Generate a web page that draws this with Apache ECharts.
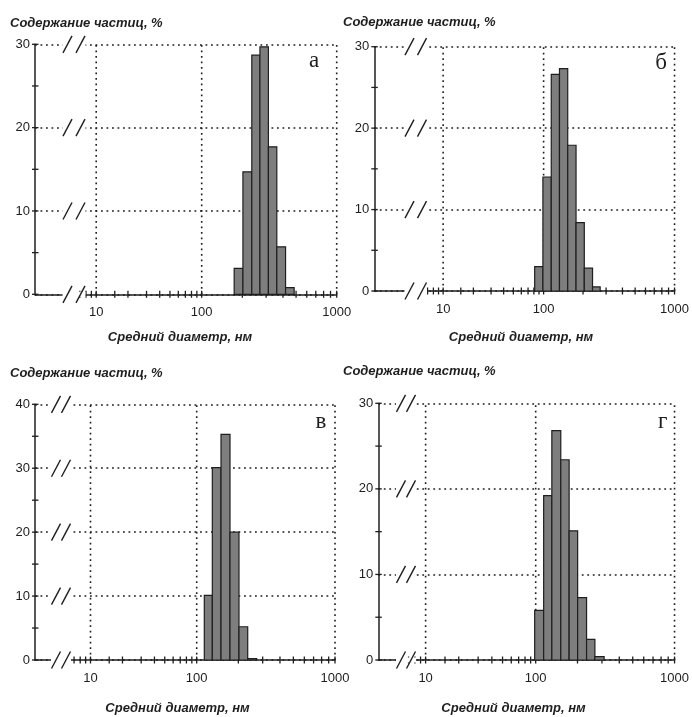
<!DOCTYPE html>
<html><head><meta charset="utf-8">
<script src="https://cdn.jsdelivr.net/npm/echarts@6/dist/echarts.min.js"></script>
<style>html,body{margin:0;padding:0;background:#fff}#c{width:692px;height:717px}</style>
</head><body><div id="c"></div>
<script>
// ---------------- data ----------------
// bin edges, nm (mean diameter) and particle content, %
const edgesA  = [174, 202, 235, 270, 312, 360, 418, 484];
const valuesA = [3.1, 14.7, 28.7, 29.7, 17.7, 5.7, 0.8];
const edgesB  = [81.5, 98.4, 114.4, 132.2, 152.8, 176.9, 204.5, 236.4, 270.3];
const valuesB = [3.0, 14.0, 26.6, 27.3, 17.9, 8.4, 2.8, 0.5];
const edgesV  = [113.5, 129.7, 149.9, 174.1, 202.2, 233.8, 271.6];
const valuesV = [10.1, 30.1, 35.3, 20.0, 5.2, 0.2];
const edgesG  = [97.9, 114.1, 130.7, 151.6, 174.1, 200.5, 232.5, 266.9, 311.0];
const valuesG = [5.8, 19.2, 26.8, 23.4, 15.1, 7.3, 2.4, 0.4];
const yMaxes  = [30, 30, 40, 30];
const panelLetters = ['а', 'б', 'в', 'г'];
const xTickLabels = [10, 100, 1000];
const xTickMarks = [7, 8, 9, 10, 15, 20, 30, 40, 50, 60, 70, 80, 90, 100,
                    200, 300, 400, 500, 600, 700, 800, 900, 1000];
const yTitle = 'Содержание частиц, %';
const xTitle = 'Средний диаметр, нм';

// ---------------- layout (pixels) ----------------
const layout = [
  {axisX:35,    x10:96.2,  x100:201.7, x1000:336.7, yTop:44.3,  y0:294.3, brk:[67.5,80.5], yT:[10,23.3],  xT:[180,337],   letter:[314,60.5]},
  {axisX:374.3, x10:443.7, x100:545,   x1000:677,   yTop:46.7,  y0:291,   brk:[409.5,422], yT:[343,22.7], xT:[521,337],   letter:[661,63]},
  {axisX:35,    x10:90.5,  x100:196.7, x1000:335,   yTop:404.3, y0:660,   brk:[56,66],     yT:[10,373.3], xT:[177.5,708], letter:[321,422]},
  {axisX:378.3, x10:426,   x100:537,   x1000:677,   yTop:403.3, y0:660,   brk:[401,411],   yT:[343,371.7],xT:[513.5,708], letter:[662.7,422]}
];
const panels = [
  {edges: edgesA, values: valuesA},
  {edges: edgesB, values: valuesB},
  {edges: edgesV, values: valuesV},
  {edges: edgesG, values: valuesG}
];

const INK = '#1f1f1f';
const DOT = [1.8, 3.7];
const txtFont = 'Liberation Sans, Arial, sans-serif';

function makeU(L) {
  const dHigh = L.x1000 - L.x100;
  const r = (L.x100 - L.x10) / dHigh;
  return d => { const l = Math.log10(d); return l >= 2 ? l : 2 - r * (2 - l); };
}

const grids = [], xAxes = [], yAxes = [], series = [], graphics = [];

layout.forEach((L, i) => {
  const u = makeU(L);
  const dHigh = L.x1000 - L.x100;
  const xMin = 2 - (L.x100 - L.axisX) / dHigh;
  const yMax = yMaxes[i];
  const P = panels[i];

  grids.push({left: L.axisX, top: L.yTop, width: L.x1000 - L.axisX, height: L.y0 - L.yTop, containLabel: false});

  const labelU = xTickLabels.map(u);
  xAxes.push({
    type: 'value', gridIndex: i, min: xMin, max: 3,
    axisLine: {show: true, onZero: false, lineStyle: {color: INK, width: 1.5}},
    axisTick: {show: false},
    splitLine: {show: false},
    axisLabel: {
      customValues: labelU, margin: 12, fontSize: 13, color: '#1e1e1e', fontFamily: txtFont,
      formatter: v => { let best = 0; labelU.forEach((w, k) => { if (Math.abs(w - v) < Math.abs(labelU[best] - v)) best = k; }); return String(xTickLabels[best]); }
    }
  });
  yAxes.push({
    type: 'value', gridIndex: i, min: 0, max: yMax, interval: 10,
    axisLine: {show: true, lineStyle: {color: INK, width: 1.5}},
    axisTick: {show: false},
    axisLabel: {margin: 5, fontSize: 13, color: '#1e1e1e', fontFamily: txtFont},
    splitLine: {show: true, lineStyle: {color: INK, width: 1.6, type: DOT}}
  });

  // vertical dotted grid lines at labelled diameters
  series.push({
    type: 'custom', xAxisIndex: i, yAxisIndex: i, z: 1, silent: true,
    data: xTickLabels.map(v => [u(v), 0]), encode: {x: 0, y: 1},
    renderItem: (params, api) => {
      const a = api.coord([api.value(0), 0]), b = api.coord([api.value(0), yMax]);
      return {type: 'line', shape: {x1: a[0], y1: a[1], x2: b[0], y2: b[1]},
              style: {stroke: INK, lineWidth: 1.6, lineDash: DOT}};
    }
  });
  // x tick marks (crossing the axis)
  series.push({
    type: 'custom', xAxisIndex: i, yAxisIndex: i, z: 2, silent: true,
    data: xTickMarks.filter(t => u(t) > xMin).map(t => [u(t), 0]), encode: {x: 0, y: 1},
    renderItem: (params, api) => {
      const a = api.coord([api.value(0), 0]);
      return {type: 'line', shape: {x1: a[0], y1: a[1] - 3.5, x2: a[0], y2: a[1] + 3.5},
              style: {stroke: INK, lineWidth: 1.3}};
    }
  });
  // y tick marks (crossing the axis)
  const yTicks = [];
  for (let v = 0; v <= yMax; v += 5) yTicks.push([xMin, v]);
  series.push({
    type: 'custom', xAxisIndex: i, yAxisIndex: i, z: 2, silent: true,
    data: yTicks, encode: {x: 0, y: 1},
    renderItem: (params, api) => {
      const a = api.coord([xMin, api.value(1)]);
      return {type: 'line', shape: {x1: a[0] - 3, y1: a[1], x2: a[0] + 3.5, y2: a[1]},
              style: {stroke: INK, lineWidth: 1.3}};
    }
  });
  // histogram bars
  series.push({
    type: 'custom', xAxisIndex: i, yAxisIndex: i, z: 3,
    data: P.values.map((v, k) => [u(P.edges[k]), u(P.edges[k + 1]), v]),
    encode: {x: [0, 1], y: 2},
    renderItem: (params, api) => {
      const a = api.coord([api.value(0), 0]), b = api.coord([api.value(1), api.value(2)]);
      return {type: 'rect', shape: {x: a[0], y: b[1], width: b[0] - a[0], height: a[1] - b[1]},
              style: {fill: '#7e7e7e', stroke: '#1f1f1f', lineWidth: 1.2}};
    }
  });
  // axis break marks on the x axis and on each horizontal grid line
  const brkRows = [];
  for (let v = 0; v <= yMax; v += 10) brkRows.push([xMin, v]);
  series.push({
    type: 'custom', xAxisIndex: i, yAxisIndex: i, z: 4, silent: true,
    data: brkRows, encode: {x: 0, y: 1},
    renderItem: (params, api) => {
      const y = api.coord([xMin, api.value(1)])[1];
      const [c1, c2] = L.brk;
      const st = {stroke: INK, lineWidth: 1.4};
      return {type: 'group', children: [
        {type: 'rect', shape: {x: c1 - 5, y: y - 2.5, width: c2 - c1 + 10, height: 5}, style: {fill: '#fff'}},
        {type: 'line', shape: {x1: c1 - 4.5, y1: y + 8.5, x2: c1 + 4.5, y2: y - 8.5}, style: st},
        {type: 'line', shape: {x1: c2 - 4.5, y1: y + 8.5, x2: c2 + 4.5, y2: y - 8.5}, style: st}
      ]};
    }
  });

  graphics.push({type: 'text', x: L.yT[0], y: L.yT[1],
    style: {text: yTitle, font: 'italic bold 13px ' + txtFont, fill: '#1e1e1e', textAlign: 'left', textVerticalAlign: 'middle'}});
  graphics.push({type: 'text', x: L.xT[0], y: L.xT[1],
    style: {text: xTitle, font: 'italic bold 13px ' + txtFont, fill: '#1e1e1e', textAlign: 'center', textVerticalAlign: 'middle'}});
  graphics.push({type: 'text', x: L.letter[0], y: L.letter[1],
    style: {text: panelLetters[i], font: '23px Liberation Serif, Times New Roman, serif', fill: '#1e1e1e', textAlign: 'center', textVerticalAlign: 'middle'}});
});

const chart = echarts.init(document.getElementById('c'), null, {renderer: 'canvas'});
chart.setOption({
  animation: false,
  backgroundColor: '#fff',
  grid: grids, xAxis: xAxes, yAxis: yAxes, series: series,
  graphic: {elements: graphics}
});
</script></body></html>
